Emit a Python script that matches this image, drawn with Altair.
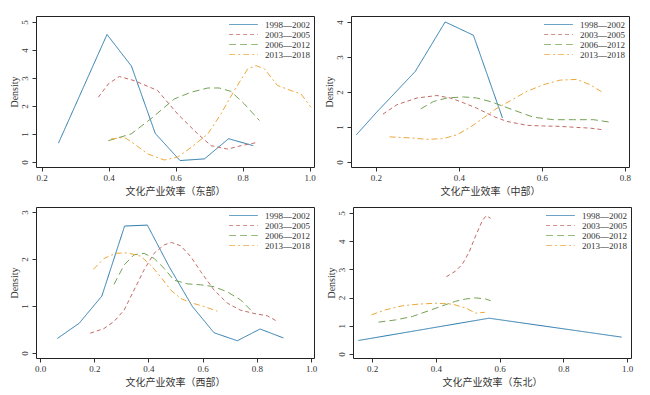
import altair as alt
import pandas as pd

periods = ["1998—2002", "2003—2005", "2006—2012", "2013—2018"]
colors = ["#2a7aad", "#c46a66", "#74a254", "#eda83c"]
dashes = [[1, 0], [4, 3], [7, 4], [6, 3, 2, 3]]

# ---- 东部 (East) ----
east_a_x = [0.250, 0.395, 0.468, 0.539, 0.613, 0.686, 0.758, 0.832]
east_a_y = [0.67, 4.55, 3.42, 1.02, 0.05, 0.11, 0.83, 0.58]
east_b_x = [0.369, 0.400, 0.432, 0.477, 0.546, 0.606, 0.666, 0.706, 0.755, 0.795, 0.845]
east_b_y = [2.31, 2.80, 3.05, 2.90, 2.55, 1.71, 1.00, 0.58, 0.46, 0.58, 0.70]
east_c_x = [0.399, 0.467, 0.526, 0.596, 0.646, 0.696, 0.730, 0.765, 0.805, 0.850]
east_c_y = [0.76, 1.00, 1.54, 2.25, 2.49, 2.64, 2.64, 2.52, 2.07, 1.48]
east_d_x = [0.407, 0.447, 0.477, 0.516, 0.566, 0.606, 0.646, 0.696, 0.735, 0.775,
            0.815, 0.840, 0.865, 0.904, 0.944, 0.974, 1.004]
east_d_y = [0.82, 0.88, 0.64, 0.29, 0.07, 0.17, 0.52, 1.00, 1.71, 2.55,
            3.32, 3.44, 3.32, 2.73, 2.55, 2.43, 1.95]

# ---- 中部 (Central) ----
cent_a_x = [0.153, 0.200, 0.295, 0.367, 0.435, 0.505]
cent_a_y = [0.78, 1.40, 2.59, 4.00, 3.62, 1.26]
cent_b_x = [0.217, 0.251, 0.299, 0.347, 0.379, 0.403, 0.443, 0.484, 0.516, 0.564,
            0.604, 0.644, 0.684, 0.716, 0.749]
cent_b_y = [1.37, 1.64, 1.83, 1.90, 1.83, 1.73, 1.54, 1.30, 1.16, 1.05,
            1.03, 1.02, 0.99, 0.97, 0.92]
cent_c_x = [0.308, 0.339, 0.371, 0.411, 0.443, 0.475, 0.508, 0.540, 0.580, 0.628,
            0.676, 0.725, 0.769]
cent_c_y = [1.52, 1.73, 1.83, 1.86, 1.83, 1.73, 1.59, 1.45, 1.28, 1.21,
            1.21, 1.21, 1.13]
cent_d_x = [0.233, 0.283, 0.323, 0.363, 0.395, 0.427, 0.459, 0.492, 0.524, 0.564,
            0.604, 0.644, 0.684, 0.716, 0.745]
cent_d_y = [0.72, 0.69, 0.65, 0.67, 0.78, 0.99, 1.26, 1.54, 1.75, 2.02,
            2.21, 2.34, 2.36, 2.21, 2.00]

# ---- 西部 (West) ----
west_a_x = [0.064, 0.144, 0.228, 0.312, 0.396, 0.476, 0.562, 0.642, 0.728, 0.812, 0.898]
west_a_y = [0.31, 0.63, 1.21, 2.70, 2.72, 1.84, 0.99, 0.43, 0.26, 0.51, 0.32]
west_b_x = [0.185, 0.236, 0.273, 0.310, 0.347, 0.384, 0.421, 0.458, 0.485, 0.519,
            0.556, 0.593, 0.642, 0.691, 0.740, 0.790, 0.839, 0.876]
west_b_y = [0.42, 0.52, 0.67, 0.91, 1.34, 1.77, 2.12, 2.30, 2.35, 2.28,
            2.05, 1.73, 1.34, 1.06, 0.91, 0.84, 0.79, 0.67]
west_c_x = [0.273, 0.310, 0.347, 0.384, 0.421, 0.458, 0.494, 0.544, 0.593, 0.642,
            0.691, 0.740, 0.790]
west_c_y = [1.46, 1.87, 2.09, 2.12, 2.01, 1.80, 1.55, 1.47, 1.45, 1.41,
            1.30, 1.13, 0.84]
west_d_x = [0.197, 0.236, 0.279, 0.322, 0.371, 0.408, 0.445, 0.482, 0.519, 0.556,
            0.605, 0.654]
west_d_y = [1.78, 2.01, 2.12, 2.13, 2.06, 1.87, 1.62, 1.34, 1.16, 1.07,
            0.99, 0.89]

# ---- 东北 (Northeast) ----
ne_a_x = [0.157, 0.567, 0.983]
ne_a_y = [0.48, 1.27, 0.60]
ne_b_x = [0.433, 0.462, 0.483, 0.504, 0.525, 0.546, 0.558, 0.572]
ne_b_y = [2.74, 2.94, 3.18, 3.60, 4.19, 4.73, 4.90, 4.81]
ne_c_x = [0.220, 0.274, 0.326, 0.379, 0.431, 0.462, 0.494, 0.525, 0.556, 0.572]
ne_c_y = [1.13, 1.21, 1.33, 1.54, 1.75, 1.87, 1.95, 1.99, 1.95, 1.89]
ne_d_x = [0.198, 0.243, 0.295, 0.347, 0.400, 0.452, 0.494, 0.525, 0.554]
ne_d_y = [1.39, 1.57, 1.71, 1.77, 1.80, 1.77, 1.63, 1.45, 1.48]

titles = ["文化产业效率（东部）", "文化产业效率（中部）", "文化产业效率（西部）", "文化产业效率（东北）"]

FONT = "'Liberation Serif', 'Noto Sans CJK SC', serif"
TXT = "#333333"


def make_df(series):
    rows = []
    for p, (xs, ys) in zip(periods, series):
        for i, (x, y) in enumerate(zip(xs, ys)):
            rows.append({"period": p, "x": x, "y": y, "i": i})
    return pd.DataFrame(rows)


def panel(series, title, xdom, ydom, xticks, yticks):
    df = make_df(series)
    legend = alt.Legend(
        title=None, orient="top-right", offset=4, symbolType="M-3.6,0H3.6",
        symbolSize=64, symbolStrokeWidth=1, symbolOpacity=0.75,
        labelFont=FONT, labelFontSize=9, labelColor=TXT, labelOffset=17,
        rowPadding=0, padding=0, labelLimit=0,
    )
    return alt.Chart(df).mark_line(strokeWidth=1).encode(
        x=alt.X("x:Q", scale=alt.Scale(domain=xdom, nice=False, zero=False),
                axis=alt.Axis(values=xticks, title=title, format=".1f", grid=False,
                              domain=False, tickSize=4, tickColor="#333",
                              labelPadding=2, titlePadding=4, labelFlush=False)),
        y=alt.Y("y:Q", scale=alt.Scale(domain=ydom, nice=False, zero=False),
                axis=alt.Axis(values=yticks, title="Density", format="d", grid=False,
                              domain=False, tickSize=4, tickColor="#333",
                              labelAngle=270, labelAlign="center", labelBaseline="bottom",
                              labelPadding=3, titlePadding=1, labelFlush=False)),
        color=alt.Color("period:N", scale=alt.Scale(domain=periods, range=colors),
                        legend=legend),
        strokeDash=alt.StrokeDash("period:N", scale=alt.Scale(domain=periods, range=dashes),
                                  legend=legend),
        order="i:Q",
    ).properties(width=278, height=151)


p1 = panel([(east_a_x, east_a_y), (east_b_x, east_b_y), (east_c_x, east_c_y), (east_d_x, east_d_y)],
           titles[0], [0.183, 1.013], [-0.18, 5.21], [0.2, 0.4, 0.6, 0.8, 1.0], [0, 1, 2, 3, 4, 5])
p2 = panel([(cent_a_x, cent_a_y), (cent_b_x, cent_b_y), (cent_c_x, cent_c_y), (cent_d_x, cent_d_y)],
           titles[1], [0.140, 0.810], [-0.14, 4.17], [0.2, 0.4, 0.6, 0.8], [0, 1, 2, 3, 4])
p3 = panel([(west_a_x, west_a_y), (west_b_x, west_b_y), (west_c_x, west_c_y), (west_d_x, west_d_y)],
           titles[2], [-0.015, 1.011], [-0.107, 3.105], [0, 0.2, 0.4, 0.6, 0.8, 1.0], [0, 1, 2, 3])
p4 = panel([(ne_a_x, ne_a_y), (ne_b_x, ne_b_y), (ne_c_x, ne_c_y), (ne_d_x, ne_d_y)],
           titles[3], [0.140, 1.0125], [-0.14, 5.21], [0.2, 0.4, 0.6, 0.8, 1.0], [0, 1, 2, 3, 4, 5])

row1 = alt.hconcat(p1, p2, spacing=7).resolve_scale(color="independent", strokeDash="independent")
row2 = alt.hconcat(p3, p4, spacing=7).resolve_scale(color="independent", strokeDash="independent")

chart = alt.vconcat(row1, row2, spacing=9).properties(
    padding={"left": 0, "top": 7, "right": 0, "bottom": 0},
    background="white",
).configure_view(
    stroke="#222222", strokeWidth=1
).configure_axis(
    labelFont=FONT, titleFont=FONT, labelFontSize=9, titleFontSize=10,
    labelColor=TXT, titleColor=TXT, titleFontWeight="normal",
)

chart.save("out.html", embed_options={"renderer": "svg", "actions": False})
